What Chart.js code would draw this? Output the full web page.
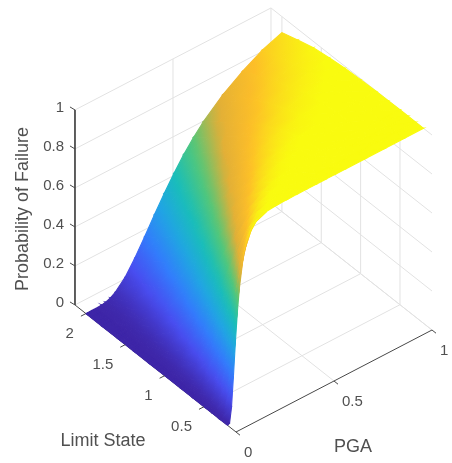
<!DOCTYPE html>
<html>
<head>
<meta charset="utf-8">
<title>Probability of Failure</title>
<script src="https://cdn.jsdelivr.net/npm/chart.js@4"></script>
<style>
  html, body { margin: 0; padding: 0; background: #fff; }
  canvas { display: block; }
</style>
</head>
<body>
<canvas id="surfaceChart" width="452" height="463"></canvas>
<script>
// values
const pgaValues = [0, 0.01, 0.02, 0.03, 0.04, 0.05, 0.06, 0.08, 0.1, 0.125, 0.15, 0.2, 0.25, 0.3, 0.35, 0.4, 0.45, 0.5, 0.55, 0.6, 0.7, 0.8, 0.9, 1];
const limitStates = [0.2, 0.3, 0.4, 0.5, 0.65, 0.8, 1, 1.2, 1.4, 1.6, 1.8, 2];
// one row per limit state, one column per PGA value
const failureProbability = [
  [0, .006, .082, .238, .408, .555, .671, .822, .902, .952, .976, .993, .998, .999, 1, 1, 1, 1, 1, 1, 1, 1, 1, 1],
  [0, .001, .020, .082, .182, .296, .408, .597, .732, .839, .902, .962, .984, .993, .997, .998, .999, 1, 1, 1, 1, 1, 1, 1],
  [0, 0, .006, .031, .082, .155, .238, .408, .555, .696, .792, .902, .952, .976, .987, .993, .996, .998, .999, .999, 1, 1, 1, 1],
  [0, 0, .002, .013, .039, .082, .139, .273, .408, .556, .671, .822, .902, .945, .968, .981, .988, .993, .995, .997, .999, .999, 1, 1],
  [0, 0, 0, .004, .014, .034, .064, .148, .251, .383, .502, .686, .804, .877, .922, .949, .967, .978, .985, .990, .995, .997, .999, .999],
  [0, 0, 0, .001, .006, .015, .031, .082, .155, .260, .367, .556, .696, .792, .858, .902, .932, .952, .966, .976, .987, .993, .996, .998],
  [0, 0, 0, 0, .002, .006, .013, .039, .082, .155, .238, .408, .556, .671, .758, .822, .868, .902, .927, .945, .968, .981, .989, .995],
  [0, 0, 0, 0, .001, .002, .006, .019, .045, .093, .155, .296, .434, .555, .654, .732, .792, .839, .875, .902, .939, .962, .978, .990],
  [0, 0, 0, 0, 0, .001, .003, .010, .026, .057, .101, .214, .337, .453, .555, .641, .711, .768, .814, .850, .902, .935, .960, .980],
  [0, 0, 0, 0, 0, 0, .001, .006, .015, .036, .067, .155, .260, .367, .467, .556, .631, .696, .749, .792, .858, .902, .938, .968],
  [0, 0, 0, 0, 0, 0, .001, .003, .009, .023, .045, .113, .200, .296, .390, .477, .555, .624, .682, .732, .809, .864, .910, .944],
  [0, 0, 0, 0, 0, 0, 0, .002, .006, .015, .031, .082, .155, .238, .325, .408, .485, .556, .617, .671, .758, .825, .880, .918]
];
const probabilityTicks = [0, 0.2, 0.4, 0.6, 0.8, 1];
const limitStateTicks = [0.5, 1, 1.5, 2];
const pgaTicks = [0, 0.5, 1];

const limitStateRange = [0.093, 2.139];

// colormap knots (blue through teal to yellow), top knot reached at colorLimit
const colormap = [
  [62, 38, 168], [72, 77, 240], [50, 124, 252], [32, 165, 227], [25, 190, 184],
  [84, 199, 120], [225, 175, 55], [253, 190, 40], [249, 251, 15]
];
const colorLimit = 0.975;

// fixed 3d view, in page units
function project(pga, limitState, probability) {
  const ls = limitState - limitStateRange[0];
  return {
    x: 236 + 196 * pga - 78.7 * ls,
    y: 432 - 102 * pga - 62.1 * ls - 195 * probability
  };
}

function colorAt(z) {
  const pos = Math.min(Math.max(z / colorLimit, 0), 1) * (colormap.length - 1);
  const i = Math.min(Math.floor(pos), colormap.length - 2);
  const f = pos - i;
  const c = colormap[i].map((v, k) => Math.round(v + (colormap[i + 1][k] - v) * f));
  return `rgb(${c[0]}, ${c[1]}, ${c[2]})`;
}

// linear gradient across one triangle, following its colour plane
function triangleFill(chart, corners) {
  const flat = colorAt((corners[0].z + corners[1].z + corners[2].z) / 3);
  const pts = corners.map(c => {
    const q = project(c.pga, c.ls, c.z);
    return { x: chart.scales.x.getPixelForValue(q.x), y: chart.scales.y.getPixelForValue(q.y), z: c.z };
  });
  if (!pts.every(p => Number.isFinite(p.x) && Number.isFinite(p.y))) return flat;
  const [a, b, c] = pts;
  const det = (b.x - a.x) * (c.y - a.y) - (c.x - a.x) * (b.y - a.y);
  const zMin = Math.min(a.z, b.z, c.z);
  const zMax = Math.max(a.z, b.z, c.z);
  if (Math.abs(det) < 1e-6 || zMax - zMin < 1e-4) return flat;
  const gx = ((b.z - a.z) * (c.y - a.y) - (c.z - a.z) * (b.y - a.y)) / det;
  const gy = ((b.x - a.x) * (c.z - a.z) - (c.x - a.x) * (b.z - a.z)) / det;
  const low = pts.find(p => p.z === zMin);
  const span = (zMax - zMin) / (gx * gx + gy * gy);
  const gradient = chart.ctx.createLinearGradient(low.x, low.y, low.x + gx * span, low.y + gy * span);
  const steps = Math.ceil((zMax - zMin) * 16) + 1;
  for (let s = 0; s <= steps; s++) {
    gradient.addColorStop(s / steps, colorAt(zMin + (zMax - zMin) * s / steps));
  }
  return gradient;
}

function triangleDataset(corners) {
  const points = corners.map(c => project(c.pga, c.ls, c.z));
  points.push(points[0]);
  const paint = ctx => triangleFill(ctx.chart, corners);
  return {
    data: points,
    showLine: true,
    fill: 'shape',
    backgroundColor: paint,
    borderColor: paint,
    borderWidth: 1.1,
    pointRadius: 0
  };
}

function lineDataset(points, color, width) {
  return { data: points, showLine: true, fill: false, borderColor: color, borderWidth: width, pointRadius: 0 };
}

const gridColor = '#e2e2e2';
const axisColor = '#484848';
const textColor = '#505050';
const lsMin = limitStateRange[0];
const lsMax = limitStateRange[1];
const layers = [];

// walls and floor
probabilityTicks.forEach(z => {
  layers.push(lineDataset([project(0, lsMax, z), project(1, lsMax, z), project(1, lsMin, z)], gridColor, 1));
});
pgaTicks.filter(p => p > 0).forEach(p => {
  layers.push(lineDataset([project(p, lsMin, 0), project(p, lsMax, 0), project(p, lsMax, 1)], gridColor, 1));
});
limitStateTicks.forEach(ls => {
  layers.push(lineDataset([project(0, ls, 0), project(1, ls, 0), project(1, ls, 1)], gridColor, 1));
});

// axes
layers.push(lineDataset([project(0, lsMax, 1), project(0, lsMax, 0), project(0, lsMin, 0), project(1, lsMin, 0)], axisColor, 1));

// surface, back to front
for (let i = pgaValues.length - 2; i >= 0; i--) {
  for (let j = limitStates.length - 2; j >= 0; j--) {
    const corner = (pi, lj) => ({ pga: pgaValues[pi], ls: limitStates[lj], z: failureProbability[lj][pi] });
    const a = corner(i, j), b = corner(i + 1, j), c = corner(i + 1, j + 1), d = corner(i, j + 1);
    layers.push(triangleDataset([b, c, d]));
    layers.push(triangleDataset([a, b, d]));
  }
}

// tick marks
probabilityTicks.forEach(z => {
  const q = project(0, lsMax, z);
  layers.push(lineDataset([q, { x: q.x - 5, y: q.y - 3 }], axisColor, 1));
});
limitStateTicks.forEach(ls => {
  const q = project(0, ls, 0);
  layers.push(lineDataset([q, { x: q.x - 5, y: q.y + 2.6 }], axisColor, 1));
});
pgaTicks.forEach(p => {
  const q = project(p, lsMin, 0);
  layers.push(lineDataset([q, { x: q.x + 4, y: q.y + 3.2 }], axisColor, 1));
});

const axisText = {
  id: 'axisText',
  afterDatasetsDraw(chart) {
    const { ctx, scales } = chart;
    const put = (text, q, align, font) => {
      ctx.font = font;
      ctx.textAlign = align;
      ctx.fillText(text, scales.x.getPixelForValue(q.x), scales.y.getPixelForValue(q.y));
    };
    const tickFont = '15px "Liberation Sans"';
    const labelFont = '18px "Liberation Sans"';
    ctx.save();
    ctx.fillStyle = textColor;
    ctx.textBaseline = 'middle';
    probabilityTicks.forEach(z => {
      const q = project(0, lsMax, z);
      put(String(z), { x: 64, y: q.y - 2 }, 'right', tickFont);
    });
    limitStateTicks.forEach(ls => {
      const q = project(0, ls, 0);
      put(String(ls), { x: q.x - 12, y: q.y + 20.5 }, 'right', tickFont);
    });
    pgaTicks.forEach(p => {
      const q = project(p, lsMin, 0);
      put(String(p), { x: q.x + 8, y: q.y + 21 }, 'left', tickFont);
    });
    put('Limit State', { x: 103, y: 441 }, 'center', labelFont);
    put('PGA', { x: 353, y: 447 }, 'center', labelFont);
    ctx.translate(scales.x.getPixelForValue(23), scales.y.getPixelForValue(209));
    ctx.rotate(-Math.PI / 2);
    ctx.font = labelFont;
    ctx.textAlign = 'center';
    ctx.fillText('Probability of Failure', 0, 0);
    ctx.restore();
  }
};

// chart.js paints the first dataset last, so hand them over reversed
new Chart(document.getElementById('surfaceChart').getContext('2d'), {
  type: 'scatter',
  data: { datasets: layers.slice().reverse() },
  options: {
    responsive: false,
    animation: false,
    events: [],
    layout: { padding: 0 },
    plugins: { legend: { display: false }, tooltip: { enabled: false } },
    scales: {
      x: { type: 'linear', min: 0, max: 452, display: false },
      y: { type: 'linear', min: 0, max: 463, reverse: true, display: false }
    }
  },
  plugins: [axisText]
});
</script>
</body>
</html>
